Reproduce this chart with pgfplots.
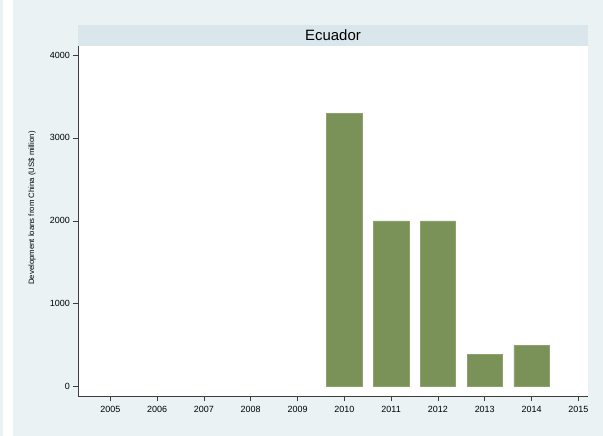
\documentclass[border=0pt]{standalone}
\usepackage{pgfplots}
\pgfplotsset{compat=1.18}
\usepackage{fontspec}
\setmainfont{Liberation Sans}
\definecolor{bgc}{RGB}{234,242,243}
\definecolor{stripc}{RGB}{217,230,235}
\definecolor{barc}{RGB}{122,145,87}
\definecolor{axc}{RGB}{60,60,60}
\begin{document}
\begin{tikzpicture}
\fill[bgc] (0bp,0bp) rectangle (603bp,436bp);
\fill[white] (3bp,0bp) rectangle (13bp,436bp);
\fill[stripc] (78.3bp,390.3bp) rectangle (587.7bp,411bp);
\node[font=\fontsize{15}{17}\selectfont, text=black] at (333bp,400.6bp) {Ecuador};
\begin{axis}[
  scale only axis,
  width=509.4bp, height=350.6bp,
  at={(78.3bp,39.7bp)}, anchor=south west,
  xmin=2004.316, xmax=2015.2,
  ymin=-115.8, ymax=4112,
  axis x line*=bottom, axis y line*=left,
  axis line style={draw=axc, line width=0.6pt},
  axis background/.style={fill=white},
  xtick={2005,2006,...,2015},
  ytick={0,1000,2000,3000,4000},
  tick align=outside,
  major tick length=5bp,
  tick style={draw=axc, line width=0.6pt},
  /pgf/number format/assume math mode=true,
  /pgf/number format/1000 sep={},
  ticklabel style={font=\fontsize{9}{10}\selectfont},
  xticklabel style={yshift=-1.5bp},
  ylabel={Development loans from China (US\$ million)},
  ylabel style={at={(axis description cs:-0.0909,0.537)}, anchor=center, font=\fontsize{7.8}{9}\selectfont},
  ybar, bar width=0.755,
]
\addplot[fill=barc, draw=barc!85!white, line width=0.4pt] coordinates {
  (2010,3300) (2011,2000) (2012,2000) (2013,390) (2014,500)
};
\end{axis}
\end{tikzpicture}
\end{document}
